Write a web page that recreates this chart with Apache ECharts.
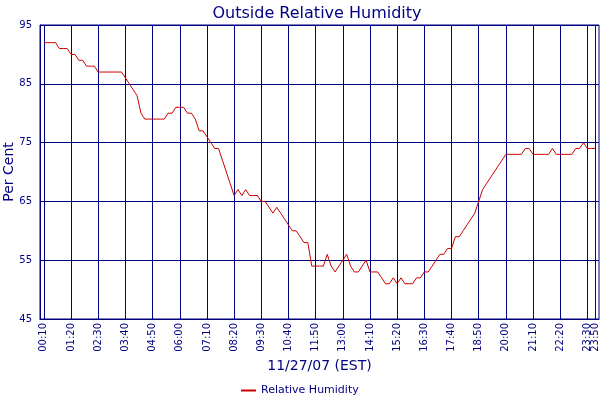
<!DOCTYPE html>
<html>
<head>
<meta charset="utf-8">
<script src="https://cdn.jsdelivr.net/npm/echarts@6/dist/echarts.min.js"></script>
<style>
html,body{margin:0;padding:0;background:#fff;}
#chart{width:600px;height:400px;}
</style>
</head>
<body>
<div id="chart"></div>
<script>
// Sampling: first reading at 00:10, one reading every 10 minutes
var sampleStart = 10;
var sampleStep = 10;
// Relative humidity (%) readings, 00:10 .. 23:50
var humidity = [
  92,92,92,92,91,91,91,90,90,89,
  89,88,88,88,87,87,87,87,87,87,
  87,86,85,84,83,80,79,79,79,79,
  79,79,80,80,81,81,81,80,80,79,
  77,77,76,75,74,74,72,70,68,66,
  67,66,67,66,66,66,65,65,64,63,
  64,63,62,61,60,60,59,58,58,54,
  54,54,54,56,54,53,54,55,56,54,
  53,53,54,55,53,53,53,52,51,51,
  52,51,52,51,51,51,52,52,53,53,
  54,55,56,56,57,57,59,59,60,61,
  62,63,65,67,68,69,70,71,72,73,
  73,73,73,73,74,74,73,73,73,73,
  73,74,73,73,73,73,73,74,74,75,
  74,74,74
];
// X tick positions (minutes after midnight)
var xTicks = [10,80,150,220,290,360,430,500,570,640,710,780,850,920,990,1060,1130,1200,1270,1340,1410,1430];
var yTicks = [45,55,65,75,85,95];

var seriesData = humidity.map(function (v, i) { return [sampleStart + i * sampleStep, v]; });

function fmt(m) {
  var h = Math.floor(m / 60), mm = m % 60;
  return (h < 10 ? '0' : '') + h + ':' + (mm < 10 ? '0' : '') + mm;
}

var navy = '#000080';
var font = 'DejaVu Sans, Verdana, sans-serif';
var labelStyle = {
  rotate: 90, margin: 4, hideOverlap: false, interval: 0,
  color: navy, fontSize: 10, fontFamily: font,
  formatter: function (v) { return fmt(v); }
};
var chart = echarts.init(document.getElementById('chart'), null, {renderer: 'canvas'});
chart.setOption({
  animation: false,
  backgroundColor: '#fff',
  textStyle: {fontFamily: font},
  title: {
    text: 'Outside Relative Humidity',
    left: 312, textAlign: 'center', top: 1,
    textStyle: {color: navy, fontSize: 16, fontWeight: 'normal', fontFamily: font}
  },
  legend: {
    left: 241, top: 385, padding: 0,
    icon: 'rect', itemWidth: 15, itemHeight: 2,
    textStyle: {color: navy, fontSize: 11, fontFamily: font},
    data: ['Relative Humidity']
  },
  grid: {
    left: 40, right: 1, top: 25, bottom: 81,
    containLabel: false, outerBoundsMode: 'none',
    show: true, borderColor: navy, borderWidth: 1, backgroundColor: 'transparent'
  },
  xAxis: [{
    type: 'value', min: 0, max: 1440,
    name: '11/27/07 (EST)', nameLocation: 'middle', nameGap: 40, nameMoveOverlap: false,
    nameTextStyle: {color: navy, fontSize: 14, fontFamily: font},
    axisLine: {show: true, lineStyle: {color: navy}},
    axisTick: {show: false, customValues: xTicks},
    splitLine: {show: true, lineStyle: {color: navy, width: 1}},
    axisLabel: Object.assign({customValues: xTicks.slice(0, -1)}, labelStyle)
  }, {
    type: 'value', min: 0, max: 1440, position: 'bottom', offset: 0,
    axisLine: {show: false},
    axisTick: {show: false, customValues: xTicks.slice(-1)},
    splitLine: {show: false},
    axisLabel: Object.assign({customValues: xTicks.slice(-1)}, labelStyle)
  }],
  yAxis: {
    type: 'value', min: 45, max: 95, interval: 10,
    name: 'Per Cent', nameLocation: 'middle', nameGap: 24, nameMoveOverlap: false,
    nameTextStyle: {color: navy, fontSize: 14, fontFamily: font},
    axisLine: {show: true, lineStyle: {color: navy}},
    axisTick: {show: false},
    splitLine: {show: true, lineStyle: {color: navy, width: 1}},
    axisLabel: {color: navy, fontSize: 10, margin: 8, fontFamily: font}
  },
  series: [{
    name: 'Relative Humidity',
    type: 'line',
    xAxisIndex: 0,
    data: seriesData,
    symbol: 'none',
    lineStyle: {color: '#cc0000', width: 1},
    itemStyle: {color: '#cc0000'},
    z: 5
  }]
});
</script>
</body>
</html>
